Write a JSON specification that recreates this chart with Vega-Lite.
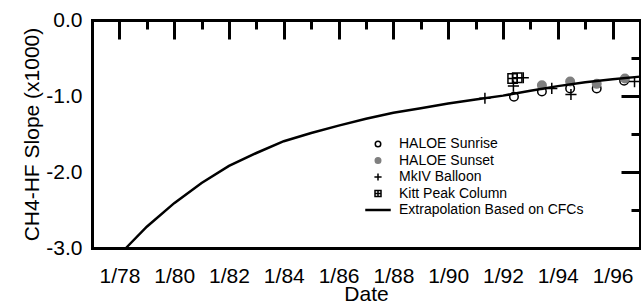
{
  "$schema": "https://vega.github.io/schema/vega-lite/v6.json",
  "width": 548,
  "height": 228,
  "autosize": {"type": "none"},
  "padding": {"left": 92, "top": 20, "right": 1, "bottom": 55},
  "background": "white",
  "config": {
    "view": {"stroke": null},
    "font": "Liberation Sans",
    "axis": {
      "grid": false,
      "domainColor": "black",
      "domainWidth": 3,
      "domainCap": "square",
      "tickColor": "black",
      "tickWidth": 3,
      "labelColor": "black",
      "titleColor": "black",
      "labelFont": "Liberation Sans",
      "titleFont": "Liberation Sans",
      "labelFontSize": 21,
      "titleFontSize": 21,
      "titleFontWeight": "normal",
      "labelOverlap": false,
      "labelFlush": false
    },
    "legend": {
      "title": null,
      "padding": 0,
      "symbolSize": 100,
      "symbolStrokeWidth": 1.5,
      "labelFont": "Liberation Sans",
      "labelFontSize": 14,
      "labelColor": "black",
      "labelOffset": 14,
      "labelLimit": 0,
      "rowPadding": 2.5
    }
  },
  "datasets": {
    "curve": [
      {"year": 1978.24, "slope": -3.0},
      {"year": 1979, "slope": -2.72},
      {"year": 1980, "slope": -2.41},
      {"year": 1981, "slope": -2.145},
      {"year": 1982, "slope": -1.92},
      {"year": 1983, "slope": -1.75},
      {"year": 1984, "slope": -1.595},
      {"year": 1985, "slope": -1.487},
      {"year": 1986, "slope": -1.39},
      {"year": 1987, "slope": -1.30},
      {"year": 1988, "slope": -1.22},
      {"year": 1989, "slope": -1.16},
      {"year": 1990, "slope": -1.10},
      {"year": 1991, "slope": -1.045},
      {"year": 1992, "slope": -0.995},
      {"year": 1993, "slope": -0.93},
      {"year": 1994, "slope": -0.87},
      {"year": 1995, "slope": -0.82},
      {"year": 1996, "slope": -0.78},
      {"year": 1997, "slope": -0.745}
    ],
    "obs": [
      {"series": "HALOE Sunrise", "year": 1992.4, "slope": -1.01},
      {"series": "HALOE Sunrise", "year": 1993.42, "slope": -0.94},
      {"series": "HALOE Sunrise", "year": 1994.45, "slope": -0.9},
      {"series": "HALOE Sunrise", "year": 1995.42, "slope": -0.9},
      {"series": "HALOE Sunrise", "year": 1996.42, "slope": -0.8},
      {"series": "HALOE Sunset", "year": 1993.42, "slope": -0.86},
      {"series": "HALOE Sunset", "year": 1994.45, "slope": -0.81},
      {"series": "HALOE Sunset", "year": 1995.42, "slope": -0.84},
      {"series": "HALOE Sunset", "year": 1996.45, "slope": -0.77},
      {"series": "MkIV Balloon", "year": 1991.34, "slope": -1.03},
      {"series": "MkIV Balloon", "year": 1992.38, "slope": -0.87},
      {"series": "MkIV Balloon", "year": 1992.74, "slope": -0.76},
      {"series": "MkIV Balloon", "year": 1993.78, "slope": -0.9},
      {"series": "MkIV Balloon", "year": 1994.48, "slope": -0.98},
      {"series": "MkIV Balloon", "year": 1996.8, "slope": -0.81},
      {"series": "Kitt Peak Column", "year": 1992.35, "slope": -0.77},
      {"series": "Kitt Peak Column", "year": 1992.52, "slope": -0.76}
    ]
  },
  "layer": [
    {
      "data": {"name": "obs"},
      "transform": [{"filter": "indexof(datum.series, 'HALOE') == 0"}],
      "mark": {"type": "point", "size": 240, "strokeWidth": 1.5, "opacity": 1},
      "encoding": {
        "x": {
          "field": "year", "type": "quantitative",
          "scale": {"domain": [1977, 1997], "nice": false, "zero": false},
          "axis": {
            "orient": "top", "offset": 228, "title": null, "labels": false,
            "values": [1977,1978,1979,1980,1981,1982,1983,1984,1985,1986,1987,1988,1989,1990,1991,1992,1993,1994,1995,1996,1997],
            "tickSize": {"condition": {"test": "datum.value % 2 == 0", "value": 19}, "value": 9}
          }
        },
        "y": {
          "field": "slope", "type": "quantitative",
          "scale": {"domain": [-3, 0], "nice": false, "zero": false},
          "axis": {
            "orient": "right", "offset": 548, "title": null, "labels": false,
            "values": [-3, -2.5, -2, -1.5, -1, -0.5, 0],
            "tickSize": {"condition": {"test": "datum.value % 1 == 0", "value": 19}, "value": 9}
          }
        },
        "shape": {
          "field": "series", "type": "nominal",
          "scale": {
            "domain": ["HALOE Sunrise", "HALOE Sunset", "MkIV Balloon", "Kitt Peak Column", "Extrapolation Based on CFCs"],
            "range": [
              "M-0.55,0A0.55,0.55 0 1,0 0.55,0A0.55,0.55 0 1,0 -0.55,0Z",
              "M-0.55,0A0.55,0.55 0 1,0 0.55,0A0.55,0.55 0 1,0 -0.55,0Z",
              "M-0.72,0H0.72M0,-0.72V0.72",
              "M-0.6,-0.6H0.6V0.6H-0.6ZM0,-0.6V0.6M-0.6,0H0.6",
              "M-2.4,-0.1H2.4V0.1H-2.4Z"
            ]
          },
          "legend": {"orient": "none", "legendX": 279, "legendY": 117}
        },
        "fill": {
          "field": "series", "type": "nominal",
          "scale": {
            "domain": ["HALOE Sunrise", "HALOE Sunset", "MkIV Balloon", "Kitt Peak Column", "Extrapolation Based on CFCs"],
            "range": ["transparent", "#7f7f7f", "transparent", "transparent", "black"]
          },
          "legend": {"orient": "none", "legendX": 279, "legendY": 117}
        },
        "stroke": {
          "field": "series", "type": "nominal",
          "scale": {
            "domain": ["HALOE Sunrise", "HALOE Sunset", "MkIV Balloon", "Kitt Peak Column", "Extrapolation Based on CFCs"],
            "range": ["black", "#7f7f7f", "black", "black", "black"]
          },
          "legend": {"orient": "none", "legendX": 279, "legendY": 117}
        }
      }
    },
    {
      "data": {"name": "obs"},
      "transform": [{"filter": "indexof(datum.series, 'HALOE') != 0"}],
      "mark": {"type": "point", "size": 240, "strokeWidth": 1.5, "opacity": 1},
      "encoding": {
        "x": {
          "field": "year", "type": "quantitative",
          "axis": {
            "orient": "bottom", "offset": -228, "title": null, "labels": false,
            "values": [1977,1978,1979,1980,1981,1982,1983,1984,1985,1986,1987,1988,1989,1990,1991,1992,1993,1994,1995,1996,1997],
            "tickSize": {"condition": {"test": "datum.value % 2 == 0", "value": 19}, "value": 9}
          }
        },
        "y": {
          "field": "slope", "type": "quantitative",
          "axis": {
            "orient": "left", "offset": -548, "title": null, "labels": false,
            "values": [-3, -2.5, -2, -1.5, -1, -0.5, 0],
            "tickSize": {"condition": {"test": "datum.value % 1 == 0", "value": 19}, "value": 9}
          }
        },
        "shape": {"field": "series", "type": "nominal", "legend": {"orient": "none", "legendX": 279, "legendY": 117}},
        "fill": {"field": "series", "type": "nominal", "legend": {"orient": "none", "legendX": 279, "legendY": 117}},
        "stroke": {"field": "series", "type": "nominal", "legend": {"orient": "none", "legendX": 279, "legendY": 117}}
      }
    },
    {
      "data": {"name": "curve"},
      "mark": {"type": "line", "color": "black", "strokeWidth": 2.5},
      "encoding": {
        "x": {
          "field": "year", "type": "quantitative",
          "axis": {
            "orient": "bottom",
            "title": "Date",
            "titlePadding": -3,
            "ticks": false,
            "values": [1978,1980,1982,1984,1986,1988,1990,1992,1994,1996],
            "labelExpr": "'1/' + slice(toString(datum.value), 2)",
            "labelPadding": 17
          }
        },
        "y": {
          "field": "slope", "type": "quantitative",
          "axis": {
            "orient": "left",
            "title": "CH4-HF Slope (x1000)",
            "titlePadding": 3,
            "ticks": false,
            "values": [-3, -2, -1, 0],
            "labelExpr": "(datum.value < 0 ? '-' : '') + toString(abs(datum.value)) + '.0'",
            "labelPadding": 10
          }
        }
      }
    }
  ],
  "resolve": {"axis": {"x": "independent", "y": "independent"}}
}
